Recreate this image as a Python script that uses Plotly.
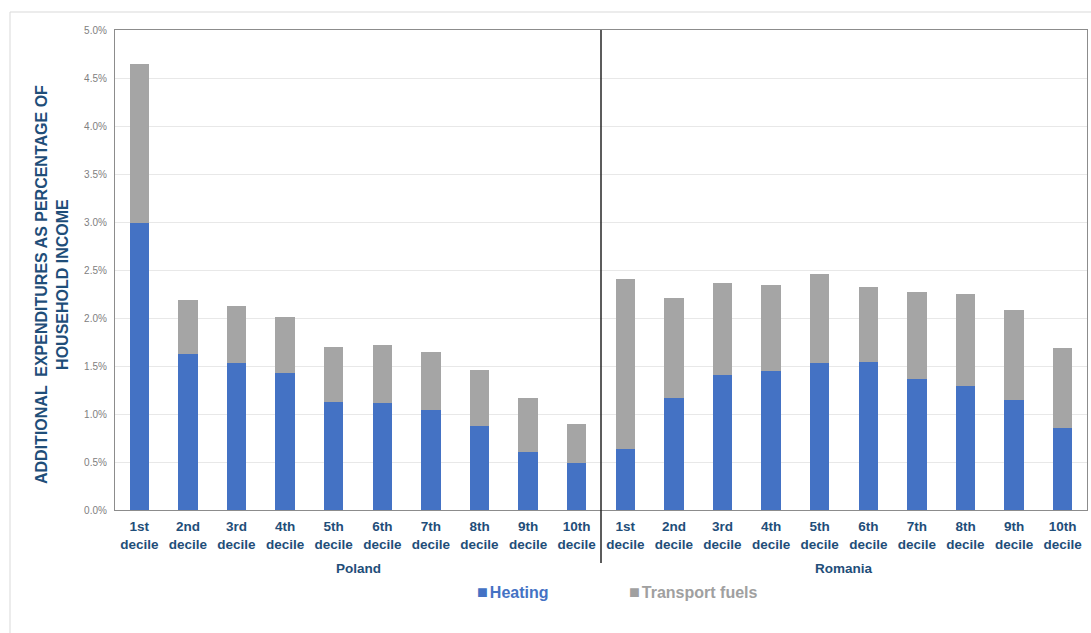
import plotly.graph_objects as go

countries = ["Poland", "Romania"]
deciles = ["1st", "2nd", "3rd", "4th", "5th", "6th", "7th", "8th", "9th", "10th"]

# values in percent of household income
heating_poland = [2.99, 1.625, 1.53, 1.43, 1.125, 1.11, 1.04, 0.875, 0.60, 0.49]
total_poland = [4.65, 2.19, 2.12, 2.01, 1.70, 1.715, 1.65, 1.46, 1.17, 0.90]
heating_romania = [0.64, 1.17, 1.41, 1.45, 1.53, 1.54, 1.36, 1.29, 1.15, 0.85]
total_romania = [2.41, 2.205, 2.36, 2.34, 2.46, 2.32, 2.27, 2.25, 2.08, 1.69]

y_ticks = [0, 0.5, 1.0, 1.5, 2.0, 2.5, 3.0, 3.5, 4.0, 4.5, 5.0]

heating = [v / 100 for v in heating_poland + heating_romania]
transport = [(t - h) / 100 for t, h in zip(total_poland + total_romania,
                                           heating_poland + heating_romania)]
xpos = list(range(len(heating)))
ticktext = [f"{d}<br>decile" for d in deciles] * len(countries)

BLUE = "#4472C4"
GRAY = "#A5A5A5"
LABEL = "#1F4E79"
FONT = "Liberation Sans, Arial, sans-serif"

fig = go.Figure()
fig.add_trace(go.Bar(x=xpos, y=heating, name="Heating", marker_color=BLUE,
                     marker_line_width=0, width=0.4))
fig.add_trace(go.Bar(x=xpos, y=transport, name="Transport fuels", marker_color=GRAY,
                     marker_line_width=0, width=0.4))

W, H = 1091, 633
L, R, T, B = 115, 4, 30, 123
pw, ph = W - L - R, H - T - B


def px(x):
    return (x - L) / pw


def py(y):
    return (H - B - y) / ph


fig.update_layout(
    barmode="stack",
    width=W, height=H,
    margin=dict(l=L, r=R, t=T, b=B),
    paper_bgcolor="white", plot_bgcolor="white",
    showlegend=False,
    font=dict(family=FONT),
    xaxis=dict(range=[-0.5, 19.5], tickmode="array", tickvals=xpos, ticktext=ticktext,
               tickfont=dict(size=13.5, color=LABEL, family=FONT, weight="bold"),
               ticklabelstandoff=4,
               showgrid=False, showline=True, linecolor="#8C8C8C", linewidth=1.2,
               mirror=True, ticks="", zeroline=False),
    yaxis=dict(range=[0, 0.05], tickmode="array", tickvals=[v / 100 for v in y_ticks],
               tickformat=".1%", tickfont=dict(size=10, color="#808080", family=FONT),
               ticklabelstandoff=5,
               showgrid=True, gridcolor="#E8E8E8", gridwidth=1,
               showline=True, linecolor="#8C8C8C", linewidth=1.2, mirror=True,
               ticks="", zeroline=False),
)

# separator between countries
fig.add_shape(type="line", xref="x", yref="paper", x0=9.5, x1=9.5, y0=py(563), y1=1,
              line=dict(color="#262626", width=1.5))
# outer chart border
fig.add_shape(type="rect", xref="paper", yref="paper", x0=px(10), x1=px(1100),
              y0=py(650), y1=py(12), line=dict(color="#D9D9D9", width=1), layer="below")

# country labels
for i, c in enumerate(countries):
    fig.add_annotation(x=i * 10 + 4.5, xref="x", y=py(568), yref="paper", text=c,
                       showarrow=False, font=dict(size=13.5, color=LABEL, family=FONT,
                                                  weight="bold"),
                       xanchor="center", yanchor="middle")

# legend
fig.add_annotation(x=px(475), xref="paper", y=py(592), yref="paper",
                   text="<span style='font-size:18px'>■</span><span style='font-size:7px'> </span>Heating",
                   showarrow=False, xanchor="left", yanchor="middle",
                   font=dict(size=16, color=BLUE, family=FONT, weight="bold"))
fig.add_annotation(x=px(627), xref="paper", y=py(592), yref="paper",
                   text="<span style='font-size:18px'>■</span><span style='font-size:7px'> </span>Transport fuels",
                   showarrow=False, xanchor="left", yanchor="middle",
                   font=dict(size=16, color="#A0A0A0", family=FONT, weight="bold"))

# y-axis title
fig.add_annotation(x=px(52), xref="paper", y=py(285), yref="paper",
                   text="ADDITIONAL  EXPENDITURES AS PERCENTAGE OF<br>HOUSEHOLD INCOME",
                   textangle=-90, showarrow=False, xanchor="center", yanchor="middle",
                   font=dict(size=16, color=LABEL, family=FONT, weight="bold"))

fig.write_html("out.html", config={"displayModeBar": False},
               post_script="document.body.style.margin='0';document.body.style.overflow='hidden';")
